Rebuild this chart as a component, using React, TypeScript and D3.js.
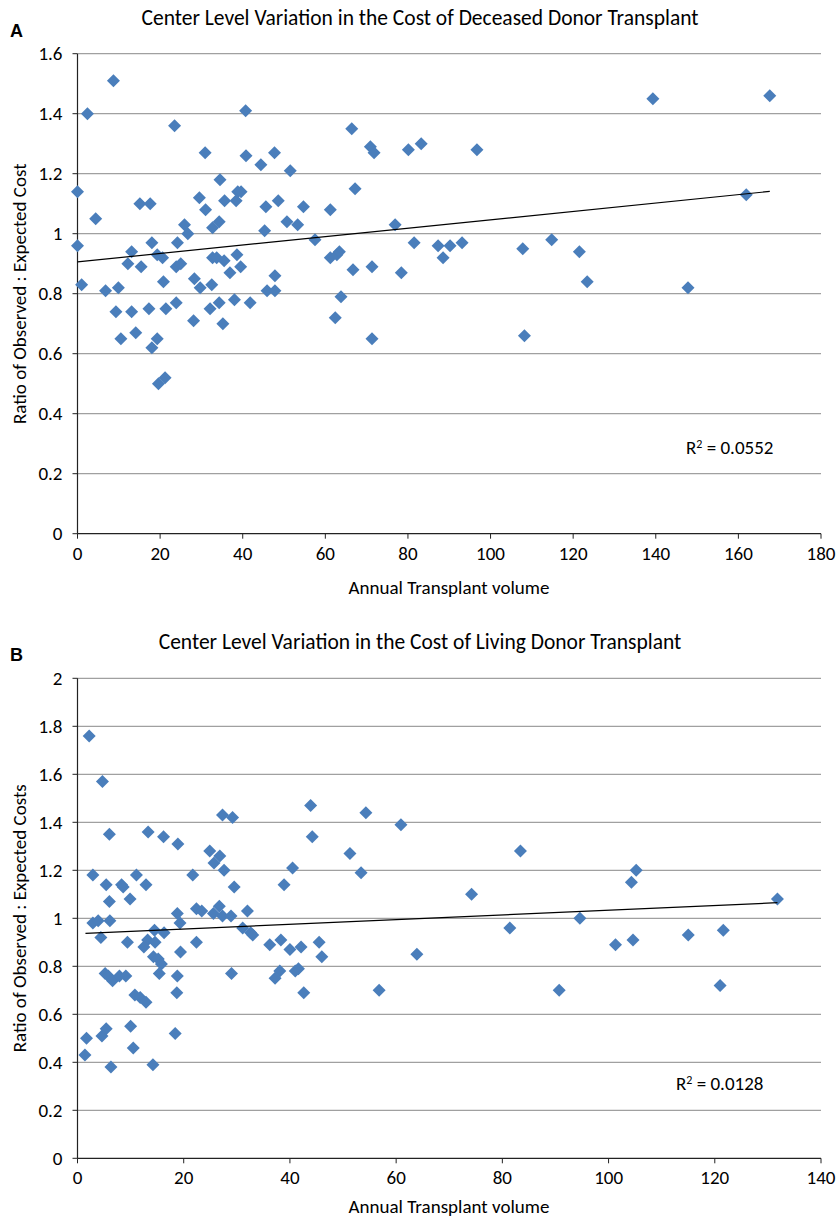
import React from "react";
import * as d3 from "d3";

// Panel A: deceased donor (annual volume, observed:expected ratio)
const volumeA = [
  0, 0, 1, 2.4, 4.4, 8.7, 6.8, 9.3, 9.9, 10.5, 12.2, 13.1, 13.1, 14.1, 15.1, 15.4,
  17.6, 18.0, 17.3, 18.0, 19.3, 19.6, 21.2, 19.3, 20.6, 20.8, 21.4, 23.5, 23.9, 24.2,
  25.0, 23.9, 25.9, 26.7, 28.1, 28.3, 29.5, 29.7, 30.9, 31.0, 32.1, 32.5, 32.7, 32.7,
  33.7, 34.3, 34.3, 34.5, 35.2, 35.5, 35.6, 36.9, 38.0, 38.4, 38.6, 38.8, 39.5, 39.6,
  40.7, 40.8, 41.8, 44.4, 45.3, 45.6, 45.9, 47.7, 47.8, 47.8, 48.6, 50.7, 51.5, 53.3,
  54.7, 57.5, 61.2, 61.2, 62.4, 62.8, 63.4, 63.8, 66.4, 66.7, 67.2, 70.9, 71.3, 71.3,
  71.8, 76.9, 78.4, 80.1, 81.5, 83.2, 87.3, 88.5, 90.2, 93.1, 96.7, 107.8, 108.2,
  114.8, 121.5, 123.4, 139.3, 147.8, 161.9, 167.6,
];
const ratioA = [
  0.96, 1.14, 0.83, 1.4, 1.05, 1.51, 0.81, 0.74, 0.82, 0.65, 0.9, 0.94, 0.74, 0.67, 1.1, 0.89,
  1.1, 0.97, 0.75, 0.62, 0.65, 0.5, 0.52, 0.93, 0.92, 0.84, 0.75, 1.36, 0.89, 0.97,
  0.9, 0.77, 1.03, 1.0, 0.71, 0.85, 1.12, 0.82, 1.27, 1.08, 0.75, 0.83, 0.92, 1.02,
  0.92, 1.04, 0.77, 1.18, 0.7, 0.91, 1.11, 0.87, 0.78, 1.11, 0.93, 1.14, 0.89, 1.14,
  1.41, 1.26, 0.77, 1.23, 1.01, 1.09, 0.81, 1.27, 0.86, 0.81, 1.11, 1.04, 1.21, 1.03,
  1.09, 0.98, 1.08, 0.92, 0.72, 0.93, 0.94, 0.79, 1.35, 0.88, 1.15, 1.29, 0.89, 0.65,
  1.27, 1.03, 0.87, 1.28, 0.97, 1.3, 0.96, 0.92, 0.96, 0.97, 1.28, 0.95, 0.66,
  0.98, 0.94, 0.84, 1.45, 0.82, 1.13, 1.46,
];
const trendAX = [0, 167.6];
const trendAY = [0.906, 1.141];

// Panel B: living donor
const volumeB = [
  2.2, 4.7, 6.0, 13.3, 16.2, 18.9, 27.3, 29.2, 24.9, 26.8, 25.7, 27.6, 2.9, 11.1, 21.7,
  5.4, 8.3, 8.6, 12.9, 6.0, 9.9, 29.5, 43.9, 54.3, 60.9, 44.2, 51.3, 40.5, 53.4, 38.9,
  32.0, 2.9, 3.9, 6.1, 4.4, 9.4, 18.8, 19.3, 22.4, 23.4, 25.6, 26.7, 27.3, 28.9, 22.4,
  14.5, 16.3, 13.2, 12.5, 14.6, 19.4, 14.3, 15.2, 15.8, 5.2, 5.8, 6.6, 7.9, 9.1, 15.4,
  18.8, 29.0, 10.8, 11.8, 12.9, 18.7, 18.4, 1.7, 4.6, 5.4, 10.0, 10.5, 1.4, 6.3, 14.2,
  31.1, 32.6, 33.0, 36.2, 38.3, 40.0, 42.1, 45.5, 46.0, 38.1, 37.2, 41.0, 41.6, 42.6,
  56.8, 83.4, 74.2, 105.2, 104.3, 131.8, 94.6, 81.4, 63.9, 101.3, 104.6, 115.0, 121.6,
  90.7, 121.0,
];
const ratioB = [
  1.76, 1.57, 1.35, 1.36, 1.34, 1.31, 1.43, 1.42, 1.28, 1.26, 1.23, 1.2, 1.18, 1.18, 1.18,
  1.14, 1.14, 1.13, 1.14, 1.07, 1.08, 1.13, 1.47, 1.44, 1.39, 1.34, 1.27, 1.21, 1.19, 1.14,
  1.03, 0.98, 0.99, 0.99, 0.92, 0.9, 1.02, 0.98, 1.04, 1.03, 1.02, 1.05, 1.01, 1.01, 0.9,
  0.95, 0.94, 0.91, 0.88, 0.9, 0.86, 0.84, 0.83, 0.81, 0.77, 0.76, 0.74, 0.76, 0.76, 0.77,
  0.76, 0.77, 0.68, 0.67, 0.65, 0.69, 0.52, 0.5, 0.51, 0.54, 0.55, 0.46, 0.43, 0.38, 0.39,
  0.96, 0.94, 0.93, 0.89, 0.91, 0.87, 0.88, 0.9, 0.84, 0.78, 0.75, 0.78, 0.79, 0.69,
  0.7, 1.28, 1.1, 1.2, 1.15, 1.08, 1.0, 0.96, 0.85, 0.89, 0.91, 0.93, 0.95,
  0.7, 0.72,
];
const trendBX = [1.5, 131.8];
const trendBY = [0.937, 1.065];

const ticksYA = d3.range(0, 1.61, 0.2);
const ticksXA = d3.range(0, 181, 20);
const ticksYB = d3.range(0, 2.01, 0.2);
const ticksXB = d3.range(0, 141, 20);

const FONT = "Carlito, Lato, 'Liberation Sans', sans-serif";
const DOT = "#4a7ebb";

function Panel({ letter, title, xs, ys, tx, ty, xMax, yMax, xTicks, yTicks, yTitle, r2, top, bottom, r2Pos, xTitleGap }) {
  const left = 77.5;
  const right = 821;
  const x = d3.scaleLinear().domain([0, xMax]).range([left, right]);
  const y = d3.scaleLinear().domain([0, yMax]).range([bottom, top]);
  const fmt = (v) => String(+v.toFixed(1));
  const trend = d3.line().x((d) => x(d[0])).y((d) => y(d[1]));
  const d = 6.5;
  return (
    <g fontFamily={FONT}>
      <text x={10} y={top - 17} fontSize={18} fontWeight="bold" fontFamily="'Liberation Sans', Arial, sans-serif">{letter}</text>
      <text x={420} y={top - 29} fontSize={21.5} textAnchor="middle" fill="#000">{title}</text>
      {yTicks.map((t) => (
        <g key={t}>
          {t > 0 && <line x1={left} x2={right} y1={y(t)} y2={y(t)} stroke="#a0a0a0" strokeWidth={1.2} />}
          <line x1={left - 5} x2={left} y1={y(t)} y2={y(t)} stroke="#222" />
          <text x={left - 15} y={y(t) + 6.5} fontSize={19} textAnchor="end">{fmt(t)}</text>
        </g>
      ))}
      {xTicks.map((t) => (
        <g key={t}>
          <line x1={x(t)} x2={x(t)} y1={bottom} y2={bottom + 5} stroke="#222" />
          <text x={x(t)} y={bottom + 26} fontSize={19} textAnchor="middle">{t}</text>
        </g>
      ))}
      <line x1={left} x2={left} y1={top} y2={bottom} stroke="#222" strokeWidth={1.2} />
      <line x1={left} x2={right} y1={bottom} y2={bottom} stroke="#222" strokeWidth={1.2} />
      <text x={449} y={bottom + xTitleGap} fontSize={19} textAnchor="middle">Annual Transplant volume</text>
      <text transform={`translate(26,${(top + bottom) / 2}) rotate(-90)`} fontSize={19} textAnchor="middle">{yTitle}</text>
      {xs.map((v, i) => {
        const cx = x(v);
        const cy = y(ys[i]);
        return <path key={i} d={`M${cx},${cy - d}L${cx + d},${cy}L${cx},${cy + d}L${cx - d},${cy}Z`} fill={DOT} />;
      })}
      <path d={trend(tx.map((v, i) => [v, ty[i]]))} stroke="#000" strokeWidth={1.2} fill="none" />
      <text x={r2Pos[0]} y={r2Pos[1]} fontSize={19}>
        R<tspan dy={-6} fontSize={12}>2</tspan><tspan dy={6}> = {r2}</tspan>
      </text>
    </g>
  );
}

export default function App() {
  return (
    <svg width={838} height={1221} style={{ position: "absolute", left: 0, top: 0, background: "#fff" }}>
      <rect width={838} height={1221} fill="#fff" />
      <Panel
        letter="A"
        title="Center Level Variation in the Cost of Deceased Donor Transplant"
        xs={volumeA}
        ys={ratioA}
        tx={trendAX}
        ty={trendAY}
        xMax={180}
        yMax={1.6}
        xTicks={ticksXA}
        yTicks={ticksYA}
        yTitle="Ratio of Observed : Expected Cost"
        r2="0.0552"
        top={53.7}
        bottom={533.7}
        r2Pos={[686, 454]}
        xTitleGap={60}
      />
      <Panel
        letter="B"
        title="Center Level Variation in the Cost of Living Donor Transplant"
        xs={volumeB}
        ys={ratioB}
        tx={trendBX}
        ty={trendBY}
        xMax={140}
        yMax={2}
        xTicks={ticksXB}
        yTicks={ticksYB}
        yTitle="Ratio of Observed : Expected Costs"
        r2="0.0128"
        top={678.3}
        bottom={1158.3}
        r2Pos={[676, 1090]}
        xTitleGap={55}
      />
    </svg>
  );
}
